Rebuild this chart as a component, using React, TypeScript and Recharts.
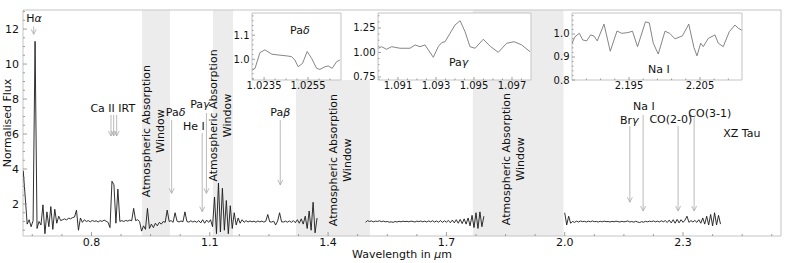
import React from 'react';
import { ComposedChart, Line, XAxis, YAxis, ReferenceArea, ReferenceLine, ReferenceDot } from 'recharts';

const FONT = '"DejaVu Sans", Verdana, sans-serif';
const TXT = '#111';
const TICK = '#888';
const FRAME = '#c4c4c4';
const BAND = '#ececec';
const ARROW = '#a8a8a8';

// ---------------- main spectrum (sampled every 0.005 µm) ----------------
const sampleStep = 0.005;
const seg1Start = 0.627;
const seg1Flux = [
  3.9, 2.4, 0.85, 1.1, 0.7, 1.05, 11.3, 0.6, 1.0, 0.8,
  1.95, 0.3, 1.55, 0.7, 1.85, 0.55, 1.7, 0.9, 1.3, 1.05,
  1.1, 1.15, 1.08, 1.2, 1.15, 1.22, 1.25, 1.65, 0.5, 1.2,
  0.95, 1.1, 1.0, 1.05, 0.98, 1.06, 1.0, 1.04, 0.97, 1.05,
  1.0, 1.08, 1.02, 0.95, 0.65, 3.3, 3.1, 0.9, 2.85, 1.0,
  1.05, 1.0, 1.06, 1.02, 1.08, 1.04, 1.75, 1.05, 1.1, 1.0,
  0.45, 0.75, 0.55, 1.75, 0.6, 0.85, 0.65, 0.9, 0.75, 0.95,
  0.85, 1.0, 0.95, 1.65, 1.0, 1.05, 0.95, 1.5, 1.02, 0.97,
  1.03, 0.98, 1.55, 1.0, 0.96, 1.04, 0.97, 1.02, 0.95, 1.05,
  0.92, 1.1, 0.9, 1.08, 0.95, 1.1, 0.7, 2.4, 0.3, 3.2,
  0.4, 2.9, 0.5, 2.2, 0.3, 1.9, 0.6, 1.5, 0.8, 1.2,
  0.9, 1.1, 0.95, 1.05, 0.97, 1.03, 0.98, 1.02, 0.96, 1.03,
  0.98, 1.02, 0.97, 1.01, 1.4, 0.98, 0.97, 1.02, 0.8, 1.02,
  1.5, 0.98, 0.97, 1.02, 0.96, 1.03, 0.95, 1.05, 0.93, 1.1,
  0.9, 1.15, 0.85, 1.3, 0.6, 1.6, 0.5, 2.1, 0.35, 1.2,
];
const seg2Start = 1.495;
const seg2Flux = [
  0.95, 1.05, 1.0, 1.03, 0.98, 1.02, 1.0, 1.04, 0.99, 1.02,
  0.98, 1.0, 0.96, 0.98, 0.95, 1.0, 0.97, 1.01, 0.98, 1.02,
  0.99, 1.01, 0.98, 1.02, 1.0, 0.97, 1.02, 0.99, 1.03, 0.98,
  1.02, 0.97, 1.03, 0.98, 1.04, 0.97, 1.03, 0.96, 1.05, 0.95,
  1.04, 0.96, 1.06, 0.93, 1.08, 0.92, 1.1, 0.9, 1.12, 0.88,
  1.15, 0.85, 1.2, 0.75, 1.35, 0.65, 1.5, 0.6, 1.55, 0.7,
  1.3,
];
const seg3Start = 2.0;
const seg3Flux = [
  1.5, 0.8, 1.3, 0.9, 1.0, 0.95, 1.02, 0.97, 1.03, 0.99,
  1.01, 0.97, 1.02, 0.98, 1.03, 0.99, 1.0, 0.97, 1.01, 0.98,
  1.02, 0.99, 1.0, 0.97, 1.01, 0.98, 1.02, 0.99, 0.97, 1.01,
  0.98, 1.0, 1.03, 0.97, 1.0, 0.96, 1.01, 0.97, 0.94, 0.99,
  0.96, 1.01, 0.98, 1.02, 0.99, 1.03, 0.98, 1.02, 0.97, 1.04,
  0.98, 1.05, 0.94, 1.08, 0.92, 1.1, 0.9, 1.12, 0.92, 1.1,
  0.95, 1.08, 1.3, 0.95, 1.05, 0.97, 1.06, 0.95, 1.1, 0.9,
  1.2, 0.85, 1.3, 0.8, 1.4, 0.75, 1.5, 0.8, 1.35, 0.85,
];

// ---------------- inset spectra ----------------
const inset1Wave = [1.02296, 1.02309, 1.02331, 1.02354, 1.02385, 1.02413, 1.02453, 1.02475, 1.0249, 1.02505, 1.02525, 1.02546, 1.02566, 1.02589, 1.02604, 1.02627, 1.02642, 1.0266, 1.0268, 1.02695];
const inset1Flux = [0.955, 0.9625, 1.0275, 1.039, 1.021, 1.018, 1.014, 1.011, 0.997, 0.969, 0.983, 1.032, 1.004, 0.9625, 0.958, 0.969, 0.972, 0.9625, 0.99, 0.997];

const inset2Wave = [1.08997, 1.09014, 1.0904, 1.09067, 1.09111, 1.09163, 1.0919, 1.09216, 1.09242, 1.0926, 1.09286, 1.09312, 1.0933, 1.09348, 1.09374, 1.094, 1.09427, 1.09453, 1.09479, 1.09506, 1.09549, 1.09588, 1.09628, 1.09672, 1.09711, 1.09751, 1.09795];
const inset2Flux = [1.043, 1.059, 1.033, 1.059, 1.043, 1.043, 1.077, 1.059, 1.077, 1.026, 0.951, 1.059, 1.1, 1.11, 1.196, 1.28, 1.324, 1.212, 1.059, 1.043, 1.135, 1.059, 1.002, 1.094, 1.11, 1.077, 1.008];

const inset3Wave = [2.18697, 2.18739, 2.188, 2.18848, 2.18904, 2.1896, 2.19007, 2.19053, 2.19148, 2.19236, 2.19331, 2.19397, 2.19483, 2.19549, 2.1962, 2.19732, 2.19786, 2.19842, 2.19912, 2.20007, 2.20073, 2.20148, 2.20253, 2.20342, 2.20415, 2.20458, 2.2051, 2.20546, 2.20617, 2.20711, 2.20758, 2.20828, 2.20913, 2.20993, 2.21039, 2.21087];
const inset3Flux = [0.96, 0.988, 1.003, 0.974, 0.97, 0.996, 0.991, 0.97, 1.043, 0.925, 1.013, 1.003, 1.006, 1.012, 0.945, 1.053, 1.048, 0.96, 0.913, 1.012, 1.003, 0.979, 0.992, 1.043, 0.941, 0.905, 0.96, 0.945, 0.981, 0.996, 0.96, 0.945, 1.01, 1.039, 1.025, 1.017];

// ---------------- axes ----------------
const mainXDomain = [0.6264, 2.5484];
const mainYDomain = [0.17, 13.09];
const mainXTicks = [0.65, 0.725, 0.8, 0.875, 0.95, 1.025, 1.1, 1.175, 1.25, 1.325, 1.4, 1.475, 1.55, 1.625, 1.7, 1.775, 1.85, 1.925, 2.0, 2.075, 2.15, 2.225, 2.3, 2.375, 2.45, 2.525];
const mainXMajor = [0.8, 1.1, 1.4, 1.7, 2.0, 2.3];
const mainYTicks = [0.5, 1, 1.5, 2, 2.5, 3, 3.5, 4, 4.5, 5, 5.5, 6, 6.5, 7, 7.5, 8, 8.5, 9, 9.5, 10, 10.5, 11, 11.5, 12, 12.5, 13];
const mainYMajor = [2, 4, 6, 8, 10, 12];

// absorption windows [start, end, top flux]
const windows = [
  [0.928, 0.999, 13.09],
  [1.108, 1.159, 13.09],
  [1.3184, 1.506, 9.09],
  [1.767, 1.997, 13.09],
];
const windowLabelPos = [
  [0.9577, 6.17],
  [1.1273, 7.06],
  [1.4299, 4.51],
  [1.8687, 4.57],
];

type Part = { t: string; it?: boolean };
// line markers: wavelength, top flux, tip flux
const arrows = [
  [0.6535, 12.15, 11.7],
  [0.8495, 7.09, 5.89],
  [0.8563, 7.09, 5.89],
  [0.8639, 7.09, 5.89],
  [1.0033, 6.8, 2.61],
  [1.0915, 7.2, 2.61],
  [1.0808, 6.06, 1.56],
  [1.2787, 6.8, 3.09],
  [2.1651, 6.45, 2.1],
  [2.1988, 7.09, 1.6],
  [2.2875, 6.46, 1.6],
  [2.3281, 6.95, 1.6],
];
const lineLabels: { w: number; f: number; parts: Part[] }[] = [
  { w: 0.6543, f: 12.61, parts: [{ t: 'H' }, { t: 'α', it: true }] },
  { w: 0.854, f: 7.47, parts: [{ t: 'Ca II IRT' }] },
  { w: 1.0133, f: 7.27, parts: [{ t: 'Pa' }, { t: 'δ', it: true }] },
  { w: 1.075, f: 7.71, parts: [{ t: 'Pa' }, { t: 'γ', it: true }] },
  { w: 1.0598, f: 6.46, parts: [{ t: 'He I' }] },
  { w: 1.2787, f: 7.27, parts: [{ t: 'Pa' }, { t: 'β', it: true }] },
  { w: 2.1638, f: 6.78, parts: [{ t: 'Br' }, { t: 'γ', it: true }] },
  { w: 2.2006, f: 7.62, parts: [{ t: 'Na I' }] },
  { w: 2.2691, f: 6.86, parts: [{ t: 'CO(2-0)' }] },
  { w: 2.3679, f: 7.22, parts: [{ t: 'CO(3-1)' }] },
  { w: 2.449, f: 6.04, parts: [{ t: 'XZ Tau' }] },
];

const toSeries = (start: number, flux: number[]) =>
  flux.map((f, i) => ({ w: +(start + i * sampleStep).toFixed(4), f }));
const zip = (wave: number[], flux: number[]) => wave.map((w, i) => ({ w, f: flux[i] }));

const seg1 = toSeries(seg1Start, seg1Flux);
const seg2 = toSeries(seg2Start, seg2Flux);
const seg3 = toSeries(seg3Start, seg3Flux);

function makeTick(
  orient: 'x' | 'y',
  majors: number[],
  fmt: (v: number) => string,
  majorLen: number,
  minorLen: number,
  fontSize: number,
  gap: number,
) {
  return (props: any) => {
    const { x, y, payload } = props;
    const v = Number(payload.value);
    const major = majors.some((m) => Math.abs(m - v) < 1e-7);
    const len = major ? majorLen : minorLen;
    if (orient === 'x') {
      return (
        <g>
          <line x1={x} y1={y} x2={x} y2={y - len} stroke={TICK} strokeWidth={0.8} />
          {major && (
            <text x={x} y={y + gap} dy="0.71em" textAnchor="middle" fontSize={fontSize} fontFamily={FONT} fill={TXT}>
              {fmt(v)}
            </text>
          )}
        </g>
      );
    }
    return (
      <g>
        <line x1={x} y1={y} x2={x + len} y2={y} stroke={TICK} strokeWidth={0.8} />
        {major && (
          <text x={x - gap} y={y} dy="0.35em" textAnchor="end" fontSize={fontSize} fontFamily={FONT} fill={TXT}>
            {fmt(v)}
          </text>
        )}
      </g>
    );
  };
}

const textShape = (parts: Part[], size = 11) => (p: any) => (
  <text x={p.cx} y={p.cy} dy="0.35em" textAnchor="middle" fontSize={size} fontFamily={FONT} fill={TXT}>
    {parts.map((q, i) => (
      <tspan key={i} fontStyle={q.it ? 'italic' : undefined}>
        {q.t}
      </tspan>
    ))}
  </text>
);

const windowShape = (p: any) => (
  <text
    transform={`rotate(-90 ${p.cx} ${p.cy})`}
    x={p.cx}
    y={p.cy}
    textAnchor="middle"
    fontSize={11}
    fontFamily={FONT}
    fill={TXT}
  >
    <tspan x={p.cx} dy="-0.3em">Atmospheric Absorption</tspan>
    <tspan x={p.cx} dy="1.27em">Window</tspan>
  </text>
);

const arrowShape = (p: any) => {
  const { x1, y1, x2, y2 } = p;
  return (
    <g>
      <line x1={x1} y1={y1} x2={x2} y2={y2} stroke={ARROW} strokeWidth={0.8} />
      <path d={`M${x2 - 2.5},${y2 - 5} L${x2},${y2} L${x2 + 2.5},${y2 - 5}`} fill="none" stroke={ARROW} strokeWidth={0.8} />
    </g>
  );
};

const yLabel = (props: any) => {
  const vb = props.viewBox || { x: 0, y: 10, width: 23, height: 226 };
  const cx = vb.x + vb.width - 15.5;
  const cy = vb.y + vb.height / 2;
  return (
    <text x={cx} y={cy} dy="0.35em" transform={`rotate(-90 ${cx} ${cy})`} textAnchor="middle" fontSize={11} fontFamily={FONT} fill={TXT}>
      Normalised Flux
    </text>
  );
};

const xLabel = (props: any) => {
  const vb = props.viewBox || { x: 23, y: 236, width: 758, height: 27 };
  const cx = vb.x + vb.width / 2;
  const cy = vb.y + 18;
  return (
    <text x={cx} y={cy} dy="0.35em" textAnchor="middle" fontSize={11} fontFamily={FONT} fill={TXT}>
      Wavelength in <tspan fontStyle="italic">μ</tspan>m
    </text>
  );
};

function MainChart() {
  return (
    <ComposedChart width={789} height={263} margin={{ top: 10, right: 8, bottom: 0, left: 0 }}>
      <XAxis
        type="number"
        dataKey="w"
        domain={mainXDomain}
        allowDataOverflow
        ticks={mainXTicks}
        interval={0}
        tickLine={false}
        axisLine={false}
        tickSize={0}
        tickMargin={0}
        height={27}
        tick={makeTick('x', mainXMajor, (v) => v.toFixed(1), 4, 2, 11, 2)}
        label={xLabel}
      />
      <YAxis
        type="number"
        domain={mainYDomain}
        allowDataOverflow
        ticks={mainYTicks}
        interval={0}
        tickLine={false}
        axisLine={false}
        tickSize={0}
        tickMargin={0}
        width={23}
        tick={makeTick('y', mainYMajor, (v) => String(v), 4, 2, 11, 4)}
        label={yLabel}
      />
      {windows.map(([a, b, top], i) => (
        <ReferenceArea key={`w${i}`} x1={a} x2={b} y1={mainYDomain[0]} y2={top} fill={BAND} fillOpacity={1} stroke="none" />
      ))}
      <Line data={seg1} dataKey="f" stroke="#1a1a1a" strokeWidth={0.9} dot={false} isAnimationActive={false} />
      <Line data={seg2} dataKey="f" stroke="#1a1a1a" strokeWidth={0.9} dot={false} isAnimationActive={false} />
      <Line data={seg3} dataKey="f" stroke="#1a1a1a" strokeWidth={0.9} dot={false} isAnimationActive={false} />
      {arrows.map(([w, top, tip], i) => (
        <ReferenceLine key={`a${i}`} segment={[{ x: w, y: top }, { x: w, y: tip }]} shape={arrowShape} />
      ))}
      {lineLabels.map((l, i) => (
        <ReferenceDot key={`l${i}`} x={l.w} y={l.f} r={0} shape={textShape(l.parts)} />
      ))}
      {windowLabelPos.map(([w, f], i) => (
        <ReferenceDot key={`wl${i}`} x={w} y={f} r={0} shape={windowShape} />
      ))}
      <ReferenceArea
        x1={mainXDomain[0]}
        x2={mainXDomain[1]}
        y1={mainYDomain[0]}
        y2={mainYDomain[1]}
        fill="none"
        stroke={FRAME}
        strokeWidth={1}
      />
    </ComposedChart>
  );
}

type InsetProps = {
  data: { w: number; f: number }[];
  box: { left: number; right: number; top: number; bottom: number };
  xDomain: number[];
  yDomain: number[];
  xTicks: number[];
  xMajor: number[];
  xFmt: (v: number) => string;
  yTicks: number[];
  yMajor: number[];
  yFmt: (v: number) => string;
  label: Part[];
  labelPos: number[];
};

function Inset(p: InsetProps) {
  const W = 789;
  const H = 263;
  return (
    <ComposedChart width={W} height={H} margin={{ top: p.box.top, right: W - p.box.right, bottom: 0, left: 0 }}>
      <XAxis
        type="number"
        dataKey="w"
        domain={p.xDomain}
        allowDataOverflow
        ticks={p.xTicks}
        interval={0}
        tickLine={false}
        axisLine={false}
        tickSize={0}
        tickMargin={0}
        height={H - p.box.bottom}
        tick={makeTick('x', p.xMajor, p.xFmt, 3, 1.5, 10, 2)}
      />
      <YAxis
        type="number"
        domain={p.yDomain}
        allowDataOverflow
        ticks={p.yTicks}
        interval={0}
        tickLine={false}
        axisLine={false}
        tickSize={0}
        tickMargin={0}
        width={p.box.left}
        tick={makeTick('y', p.yMajor, p.yFmt, 3, 1.5, 10, 2.5)}
      />
      <ReferenceArea
        x1={p.xDomain[0]}
        x2={p.xDomain[1]}
        y1={p.yDomain[0]}
        y2={p.yDomain[1]}
        fill="#ffffff"
        fillOpacity={1}
        stroke={FRAME}
        strokeWidth={1}
      />
      <Line data={p.data} dataKey="f" stroke="#777" strokeWidth={0.9} dot={false} isAnimationActive={false} />
      <ReferenceDot x={p.labelPos[0]} y={p.labelPos[1]} r={0} shape={textShape(p.label)} />
    </ComposedChart>
  );
}

const abs: React.CSSProperties = { position: 'absolute', left: 0, top: 0 };

export default function App() {
  return (
    <div style={{ position: 'absolute', left: 0, top: 0, width: 789, height: 263, background: '#fff', fontFamily: FONT }}>
      <div style={abs}>
        <MainChart />
      </div>
      <div style={abs}>
        <Inset
          data={zip(inset1Wave, inset1Flux)}
          box={{ left: 252, right: 341, top: 13, bottom: 80 }}
          xDomain={[1.02295, 1.027]}
          yDomain={[0.914, 1.192]}
          xTicks={[1.023, 1.0235, 1.024, 1.0245, 1.025, 1.0255, 1.026, 1.0265]}
          xMajor={[1.0235, 1.0255]}
          xFmt={(v) => v.toFixed(4)}
          yTicks={[0.92, 0.94, 0.96, 0.98, 1.0, 1.02, 1.04, 1.06, 1.08, 1.1, 1.12, 1.14, 1.16, 1.18]}
          yMajor={[1.0, 1.1]}
          yFmt={(v) => v.toFixed(1)}
          label={[{ t: 'Pa' }, { t: 'δ', it: true }]}
          labelPos={[1.02513, 1.119]}
        />
      </div>
      <div style={abs}>
        <Inset
          data={zip(inset2Wave, inset2Flux)}
          box={{ left: 378, right: 531, top: 13, bottom: 80 }}
          xDomain={[1.08995, 1.098]}
          yDomain={[0.719, 1.403]}
          xTicks={[1.09, 1.0905, 1.091, 1.0915, 1.092, 1.0925, 1.093, 1.0935, 1.094, 1.0945, 1.095, 1.0955, 1.096, 1.0965, 1.097, 1.0975]}
          xMajor={[1.091, 1.093, 1.095, 1.097]}
          xFmt={(v) => v.toFixed(3)}
          yTicks={[0.75, 0.8125, 0.875, 0.9375, 1.0, 1.0625, 1.125, 1.1875, 1.25, 1.3125, 1.375]}
          yMajor={[0.75, 1.0, 1.25]}
          yFmt={(v) => v.toFixed(2)}
          label={[{ t: 'Pa' }, { t: 'γ', it: true }]}
          labelPos={[1.09419, 0.906]}
        />
      </div>
      <div style={abs}>
        <Inset
          data={zip(inset3Wave, inset3Flux)}
          box={{ left: 572, right: 742, top: 13, bottom: 80 }}
          xDomain={[2.18697, 2.21092]}
          yDomain={[0.8, 1.0913]}
          xTicks={[2.189, 2.191, 2.193, 2.195, 2.197, 2.199, 2.201, 2.203, 2.205, 2.207, 2.209]}
          xMajor={[2.195, 2.205]}
          xFmt={(v) => v.toFixed(3)}
          yTicks={[0.8, 0.82, 0.84, 0.86, 0.88, 0.9, 0.92, 0.94, 0.96, 0.98, 1.0, 1.02, 1.04, 1.06, 1.08]}
          yMajor={[0.8, 0.9, 1.0]}
          yFmt={(v) => v.toFixed(1)}
          label={[{ t: 'Na I' }]}
          labelPos={[2.19922, 0.848]}
        />
      </div>
    </div>
  );
}
